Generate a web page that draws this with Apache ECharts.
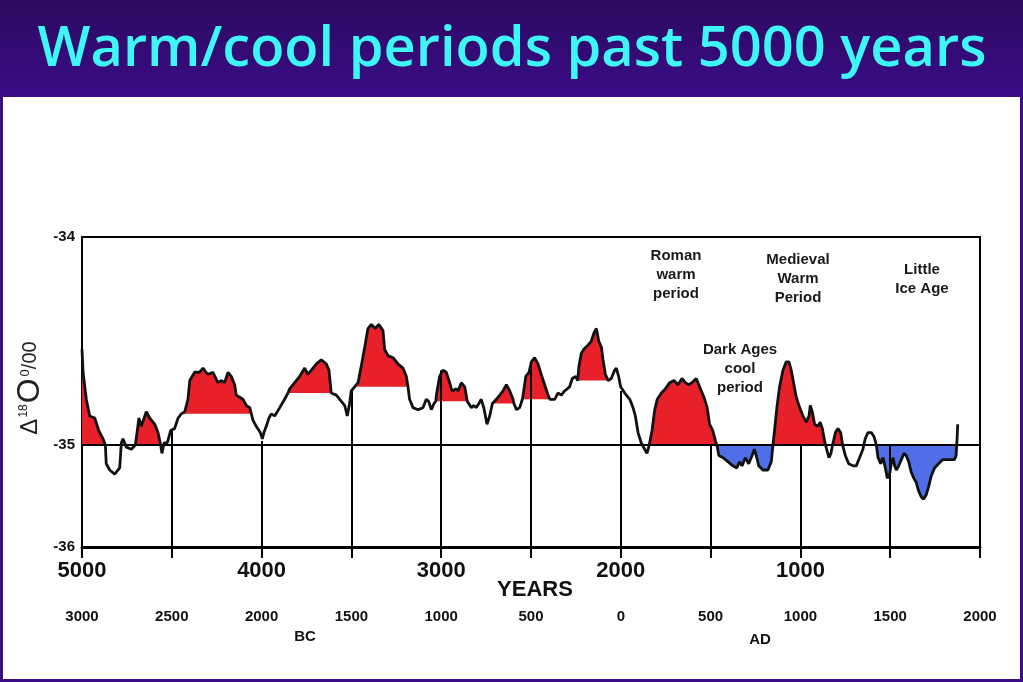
<!DOCTYPE html>
<html><head><meta charset="utf-8">
<script src="https://cdn.jsdelivr.net/npm/echarts@6/dist/echarts.min.js"></script>
<style>html,body{margin:0;padding:0;background:#fff}#c{width:1023px;height:682px}</style>
</head><body><div id="c"></div>
<script>
// years before present (BP) and delta-18O values
const years = [5000,4994,4976,4957,4929,4907,4883,4870,4865,4846,4818,4790,4781,4772,4753,4725,4703,4692,4683,4670,4642,4623,4595,4577,4562,4555,4543,4525,4506,4484,4465,4447,4428,4410,4400,4373,4345,4326,4310,4298,4271,4243,4224,4206,4187,4169,4150,4141,4122,4104,4085,4066,4057,4048,4030,4007,3996,3987,3974,3959,3946,3927,3899,3872,3853,3844,3816,3788,3760,3742,3723,3695,3668,3640,3625,3612,3584,3556,3537,3523,3510,3501,3482,3463,3445,3426,3408,3389,3367,3348,3324,3315,3296,3268,3241,3213,3194,3185,3176,3157,3129,3101,3083,3070,3055,3040,3030,3027,3009,2990,2972,2953,2940,2916,2906,2888,2869,2855,2832,2819,2805,2790,2777,2763,2745,2730,2715,2693,2674,2656,2637,2618,2600,2595,2581,2563,2548,2544,2529,2511,2498,2480,2461,2443,2424,2405,2395,2368,2350,2331,2313,2285,2270,2251,2240,2233,2220,2206,2183,2164,2149,2136,2123,2108,2099,2086,2070,2053,2034,2025,2012,2001,1978,1950,1932,1919,1904,1886,1867,1854,1842,1826,1811,1797,1774,1752,1728,1704,1682,1659,1641,1622,1604,1580,1561,1537,1519,1506,1488,1473,1465,1454,1432,1404,1376,1354,1339,1325,1306,1288,1269,1256,1243,1232,1209,1181,1162,1153,1144,1131,1116,1097,1079,1064,1051,1038,1023,1004,986,967,952,945,934,921,902,890,878,865,860,841,830,821,805,791,776,765,750,731,707,689,670,652,639,624,605,590,577,568,553,540,527,516,503,494,484,475,466,453,438,423,411,397,383,368,355,342,327,314,300,286,272,253,231,207,183,161,142,133,127,124];
const values = [-34.54,-34.65,-34.78,-34.86,-34.87,-34.93,-34.97,-35.00,-35.09,-35.12,-35.14,-35.11,-34.99,-34.97,-35.01,-35.02,-35.00,-34.93,-34.87,-34.91,-34.84,-34.87,-34.90,-34.94,-35.00,-35.04,-34.99,-34.99,-34.93,-34.92,-34.87,-34.85,-34.84,-34.78,-34.69,-34.65,-34.65,-34.63,-34.65,-34.66,-34.65,-34.70,-34.69,-34.70,-34.65,-34.67,-34.71,-34.76,-34.77,-34.78,-34.81,-34.82,-34.85,-34.88,-34.91,-34.94,-34.97,-34.94,-34.91,-34.87,-34.85,-34.86,-34.82,-34.78,-34.75,-34.73,-34.70,-34.67,-34.63,-34.66,-34.64,-34.61,-34.59,-34.61,-34.64,-34.75,-34.76,-34.79,-34.81,-34.86,-34.80,-34.74,-34.72,-34.70,-34.62,-34.53,-34.44,-34.42,-34.44,-34.42,-34.45,-34.54,-34.57,-34.58,-34.61,-34.63,-34.67,-34.72,-34.78,-34.82,-34.83,-34.82,-34.78,-34.79,-34.83,-34.80,-34.79,-34.76,-34.67,-34.64,-34.65,-34.70,-34.74,-34.73,-34.74,-34.70,-34.72,-34.79,-34.82,-34.81,-34.82,-34.80,-34.78,-34.82,-34.90,-34.86,-34.80,-34.78,-34.76,-34.74,-34.71,-34.74,-34.78,-34.80,-34.83,-34.82,-34.78,-34.76,-34.67,-34.65,-34.60,-34.58,-34.61,-34.66,-34.71,-34.76,-34.78,-34.78,-34.75,-34.76,-34.74,-34.72,-34.68,-34.67,-34.69,-34.62,-34.56,-34.54,-34.52,-34.50,-34.46,-34.44,-34.50,-34.53,-34.59,-34.66,-34.69,-34.68,-34.64,-34.63,-34.67,-34.72,-34.75,-34.78,-34.82,-34.86,-34.94,-34.99,-35.02,-35.04,-35.00,-34.93,-34.83,-34.78,-34.75,-34.73,-34.70,-34.69,-34.71,-34.68,-34.70,-34.71,-34.70,-34.68,-34.72,-34.77,-34.82,-34.90,-34.93,-34.98,-35.00,-35.05,-35.06,-35.08,-35.10,-35.11,-35.08,-35.10,-35.06,-35.09,-35.05,-35.02,-35.06,-35.10,-35.12,-35.12,-35.08,-35.00,-34.93,-34.82,-34.72,-34.64,-34.60,-34.60,-34.64,-34.70,-34.77,-34.82,-34.86,-34.89,-34.86,-34.81,-34.84,-34.90,-34.91,-34.89,-34.92,-34.98,-35.00,-35.06,-35.04,-35.00,-34.94,-34.92,-34.94,-35.00,-35.05,-35.09,-35.10,-35.10,-35.06,-35.02,-34.97,-34.94,-34.94,-34.96,-35.00,-35.06,-35.09,-35.06,-35.11,-35.16,-35.14,-35.09,-35.06,-35.10,-35.12,-35.10,-35.07,-35.04,-35.05,-35.08,-35.13,-35.16,-35.18,-35.22,-35.25,-35.26,-35.24,-35.20,-35.15,-35.11,-35.09,-35.07,-35.07,-35.07,-35.07,-35.05,-34.96,-34.90];

// shaded periods: [start BP, end BP, level the shading is drawn from]
const warmPeriods = [[5000,4870,-35],[4703,4562,-35],[4447,4057,-34.85],[3853,3612,-34.75],[3482,3185,-34.72],[3030,2855,-34.79],[2715,2595,-34.80],[2548,2395,-34.78],[2240,2070,-34.69],[1842,1465,-35],[1153,860,-35],[821,765,-35]];
const coolPeriods = [[1465,1153,-35],[577,133,-35]];

// vertical guide lines: year BP and the value where each line starts
const guideYears = [4500,4000,3500,3000,2500,2000,1500,1000,500];
const guideTops = [-34.93,-34.98,-34.73,-34.64,-34.60,-34.74,-35,-35,-35];

const yTickValues = [-35.49,-35,-34];
const yTickLabels = ['-36','-35','-34'];
const yMin = -35.49, yMax = -34;
const baseline = -35;

const periodNotes = [
  {text:'Roman\nwarm\nperiod', x:676, y:275},
  {text:'Medieval\nWarm\nPeriod', x:798, y:279},
  {text:'Little\nIce Age', x:922, y:279},
  {text:'Dark Ages\ncool\nperiod', x:740, y:369}
];

const curve = years.map((t,i)=>[t, values[i]]);
function slice(a,b){ return curve.filter(p=>p[0]<=a && p[0]>=b); }

const FONT = '"Liberation Sans", Arial, sans-serif';
const series = [];
warmPeriods.forEach(r=>series.push({type:'line', data:slice(r[0],r[1]), showSymbol:false, silent:true, z:2,
  lineStyle:{width:0}, areaStyle:{color:'#e8202a', opacity:1, origin:r[2]}}));
coolPeriods.forEach(r=>series.push({type:'line', data:slice(r[0],r[1]), showSymbol:false, silent:true, z:2,
  lineStyle:{width:0}, areaStyle:{color:'#4f6ee8', opacity:1, origin:r[2]}}));
series.push({type:'line', data:curve, showSymbol:false, silent:true, z:5,
  lineStyle:{color:'#111', width:2.8},
  markLine:{silent:true, symbol:['none','none'], label:{show:false}, animation:false,
    lineStyle:{color:'#000', width:2, type:'solid'},
    data:[{yAxis:baseline}].concat(guideYears.map((t,i)=>[{coord:[t,guideTops[i]]},{coord:[t,yMin]}]))}
});

const chart = echarts.init(document.getElementById('c'), null, {renderer:'canvas'});
chart.setOption({
  animation:false,
  backgroundColor:'#ffffff',
  grid:{left:82, right:43, top:237, bottom:135, show:true, borderColor:'#000', borderWidth:2, backgroundColor:'transparent'},
  xAxis:[
    {type:'value', min:0, max:5000, interval:500, inverse:true,
     axisLine:{lineStyle:{color:'#000', width:3}},
     axisTick:{length:11, lineStyle:{color:'#000', width:2}},
     splitLine:{show:false},
     axisLabel:{margin:13, fontSize:22, fontWeight:'bold', color:'#111', fontFamily:FONT,
       formatter:v=> (v>0 && v%1000===0) ? String(v) : ''}},
    {type:'value', min:-3000, max:2000, interval:500, position:'bottom',
     axisLine:{show:false}, axisTick:{show:false}, splitLine:{show:false},
     axisLabel:{margin:62, fontSize:15, fontWeight:'bold', color:'#111', fontFamily:FONT,
       formatter:v=>String(Math.abs(v))}}
  ],
  yAxis:{type:'value', min:yMin, max:yMax,
    axisLine:{show:true, lineStyle:{color:'#000', width:2}},
    axisTick:{show:true, length:4, customValues:yTickValues, lineStyle:{color:'#000', width:2}},
    splitLine:{show:false},
    axisLabel:{customValues:yTickValues, margin:7, fontSize:15, fontWeight:'bold', color:'#111', fontFamily:FONT,
      formatter:v=>{const i=yTickValues.indexOf(v); return i>=0?yTickLabels[i]:'';}}},
  series: series,
  graphic:[
    {type:'rect', z:-10, shape:{x:0,y:0,width:1023,height:97},
     style:{fill:new echarts.graphic.LinearGradient(0,0,0,1,[{offset:0,color:'#2c0a60'},{offset:1,color:'#3a0c86'}])}},
    {type:'rect', z:-10, shape:{x:0,y:97,width:3,height:585}, style:{fill:'#3a0c86'}},
    {type:'rect', z:-10, shape:{x:1020,y:97,width:3,height:585}, style:{fill:'#3a0c86'}},
    {type:'rect', z:-10, shape:{x:0,y:679,width:1023,height:3}, style:{fill:'#3a0c86'}},
    {type:'text', x:512, y:50, style:{text:'Warm/cool periods past 5000 years', align:'center', verticalAlign:'middle',
      font:'600 56px "Open Sans", sans-serif', fill:'#3ff6f6', shadowColor:'rgba(0,0,0,0.85)', shadowOffsetX:2, shadowOffsetY:2, shadowBlur:1}},
    {type:'text', x:535, y:590, style:{text:'YEARS', align:'center', verticalAlign:'middle', font:'bold 22px '+FONT, fill:'#111'}},
    {type:'text', x:305, y:637, style:{text:'BC', align:'center', verticalAlign:'middle', font:'bold 15px '+FONT, fill:'#111'}},
    {type:'text', x:760, y:640, style:{text:'AD', align:'center', verticalAlign:'middle', font:'bold 15px '+FONT, fill:'#111'}},
    {type:'text', x:30, y:388, rotation:Math.PI/2, style:{
      text:'{a|Δ}{b|18}{c|O}{d|0}{e|/00}', align:'center', verticalAlign:'middle', fill:'#222',
      rich:{a:{fontSize:24, fontFamily:FONT, fill:'#222'}, b:{fontSize:12, fontFamily:FONT, fill:'#222', padding:[0,1,12,1]},
            c:{fontSize:32, fontFamily:FONT, fill:'#222'}, d:{fontSize:13, fontFamily:FONT, fill:'#222', padding:[0,0,10,2]},
            e:{fontSize:20, fontFamily:FONT, fill:'#222'}}}}
  ].concat(periodNotes.map(n=>({type:'text', x:n.x, y:n.y, style:{text:n.text, align:'center', verticalAlign:'middle',
      font:'bold 15px '+FONT, lineHeight:19, fill:'#1a1a1a'}})))
});
</script></body></html>
